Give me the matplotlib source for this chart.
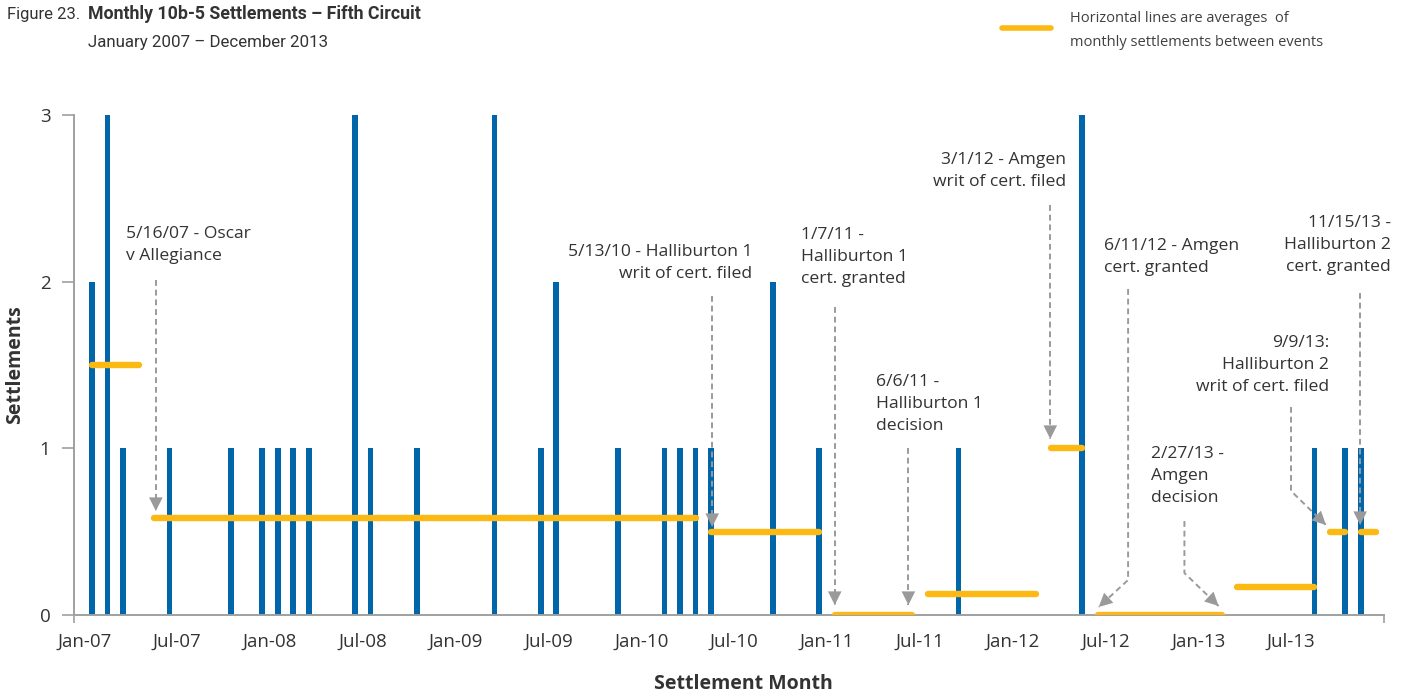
import matplotlib
matplotlib.use('Agg')
import matplotlib.pyplot as plt

# ---------------- data ----------------
month_labels = [f"{m}-{y:02d}" for y in range(7, 14) for m in
                ["Jan", "Feb", "Mar", "Apr", "May", "Jun", "Jul", "Aug", "Sep", "Oct", "Nov", "Dec"]]

settlements = [
    2, 3, 1, 0, 0, 1, 0, 0, 0, 1, 0, 1,   # 2007
    1, 1, 1, 0, 0, 3, 1, 0, 0, 1, 0, 0,   # 2008
    0, 0, 3, 0, 0, 1, 2, 0, 0, 0, 1, 0,   # 2009
    0, 1, 1, 1, 1, 0, 0, 0, 2, 0, 0, 1,   # 2010
    0, 0, 0, 0, 0, 0, 0, 0, 1, 0, 0, 0,   # 2011
    0, 0, 0, 0, 3, 0, 0, 0, 0, 0, 0, 0,   # 2012
    0, 0, 0, 0, 0, 0, 0, 1, 0, 1, 1, 0,   # 2013
]

avg_start = ["Jan-07", "May-07", "May-10", "Jan-11", "Jul-11", "Mar-12", "Jun-12", "Mar-13", "Sep-13", "Nov-13"]
avg_end = ["Apr-07", "Apr-10", "Dec-10", "Jun-11", "Feb-12", "May-12", "Feb-13", "Aug-13", "Oct-13", "Dec-13"]
avg_value = [1.5, 0.583, 0.5, 0.0, 0.125, 1.0, 0.0, 0.167, 0.5, 0.5]

xtick_labels = ["Jan-07", "Jul-07", "Jan-08", "Jul-08", "Jan-09", "Jul-09", "Jan-10",
                "Jul-10", "Jan-11", "Jul-11", "Jan-12", "Jul-12", "Jan-13", "Jul-13"]

event_texts = [
    "5/16/07 - Oscar\nv Allegiance",
    "5/13/10 - Halliburton 1\nwrit of cert. filed",
    "1/7/11 -\nHalliburton 1\ncert. granted",
    "6/6/11 -\nHalliburton 1\ndecision",
    "3/1/12 - Amgen\nwrit of cert. filed",
    "6/11/12 - Amgen\ncert. granted",
    "2/27/13 -\nAmgen\ndecision",
    "9/9/13:\nHalliburton 2\nwrit of cert. filed",
    "11/15/13 -\nHalliburton 2\ncert. granted",
]
# text anchor (x in months, y in settlements) and alignment
event_text_pos = [(2.19, 2.223, "left"), (42.69, 2.11, "right"), (45.83, 2.148, "left"),
                  (50.68, 1.266, "left"), (62.95, 2.667, "right"), (65.43, 2.148, "left"),
                  (68.46, 0.831, "left"), (79.96, 1.50, "right"), (83.95, 2.222, "right")]
# arrow paths (last point is the arrow tip)
event_arrows = [
    [(4.12, 2.01), (4.12, 0.624)],
    [(40.08, 1.914), (40.08, 0.528)],
    [(48.0, 1.848), (48.0, 0.06)],
    [(52.76, 1.002), (52.76, 0.06)],
    [(61.93, 2.46), (61.93, 1.056)],
    [(66.96, 1.956), (66.96, 0.21), (65.06, 0.048)],
    [(70.6, 0.564), (70.6, 0.252), (72.81, 0.054)],
    [(77.49, 1.248), (77.49, 0.744), (79.75, 0.54)],
    [(81.96, 1.932), (81.96, 0.54)],
]

# ---------------- style ----------------
BLUE = "#0066A9"
YELLOW = "#FDB913"
GREY = "#9A9A9A"
TXT = "#333333"
FONT = ["Open Sans", "DejaVu Sans"]
plt.rcParams["font.family"] = FONT

fig = plt.figure(figsize=(14.1, 6.94), dpi=100)
ax = fig.add_axes([74 / 1410, 1 - 615 / 694, (1384 - 74) / 1410, (615 - 115) / 694])

xs = list(range(len(settlements)))
ax.bar(xs, settlements, width=0.37, color=BLUE, zorder=2)

for s, e, v in zip(avg_start, avg_end, avg_value):
    i0, i1 = month_labels.index(s), month_labels.index(e)
    ax.plot([i0, i1], [v, v], color=YELLOW, lw=4.6, solid_capstyle="round", zorder=3)

for txt, (tx, ty, ha) in zip(event_texts, event_text_pos):
    ax.text(tx, ty, txt, ha=ha, va="center", multialignment=ha, fontsize=12.6,
            color=TXT, linespacing=1.5, zorder=5)

for path in event_arrows:
    px = [p[0] for p in path]
    py = [p[1] for p in path]
    ax.plot(px, py, color=GREY, lw=1.4, dashes=(3, 2), zorder=4)
    ax.annotate("", xy=path[-1], xytext=path[-2],
                arrowprops=dict(arrowstyle="-|>,head_length=0.7,head_width=0.35",
                                color=GREY, lw=0, shrinkA=0, shrinkB=0,
                                mutation_scale=14), zorder=4)

xmin, xmax = -1.17, 83.5
ax.set_xlim(xmin, xmax)
ax.set_ylim(0, 3)

major = [6 * k - 0.5 for k in range(len(xtick_labels))]
ax.set_xticks(major)
ax.set_xticklabels(xtick_labels)
ax.set_xticks([xmin] + major[1:] + [xmax], minor=True)
ax.tick_params(axis="x", which="major", length=0, pad=13, labelsize=13.5, labelcolor=TXT)
ax.tick_params(axis="x", which="minor", length=6, width=1.2, color="#A0A0A0", direction="out")

ax.set_yticks([0, 1, 2, 3])
ax.tick_params(axis="y", length=9, width=1.2, color="#A0A0A0", pad=8, labelsize=13.5, labelcolor=TXT)

for side in ["top", "right"]:
    ax.spines[side].set_visible(False)
for side in ["left", "bottom"]:
    ax.spines[side].set_color("#A0A0A0")
    ax.spines[side].set_linewidth(1.4)

ax.set_xlabel("Settlement Month", fontsize=14, fontweight="bold", color=TXT)
ax.xaxis.label.set_va("center")
ax.xaxis.set_label_coords(0.511, -0.138)
ax.set_ylabel("Settlements", fontsize=14, fontweight="bold", color=TXT)
ax.yaxis.label.set_va("center")
ax.yaxis.set_label_coords(-59 / 1310, 0.5)

# titles
TFONT = ["Roboto", "DejaVu Sans"]
fig.text(7 / 1410, 1 - 14 / 694, "Figure 23.", family=TFONT, fontsize=12.0, color=TXT, va="center")
fig.text(88 / 1410, 1 - 14 / 694, "Monthly 10b-5 Settlements \u2013 Fifth Circuit", family=TFONT,
         fontsize=12.8, fontweight="bold", color=TXT, va="center")
fig.text(88 / 1410, 1 - 42 / 694, "January 2007 \u2013 December 2013", family=TFONT,
         fontsize=12.2, color=TXT, va="center")

# legend-like note
fig.add_artist(plt.Line2D([1002 / 1410, 1051 / 1410], [1 - 28 / 694, 1 - 28 / 694],
                          color=YELLOW, lw=4.0, solid_capstyle="round"))
fig.text(1070 / 1410, 1 - 30.5 / 694, "Horizontal lines are averages  of\nmonthly settlements between events",
         fontsize=10.5, color="#404040", va="center", linespacing=1.8)

fig.savefig("out.png", dpi=100)
